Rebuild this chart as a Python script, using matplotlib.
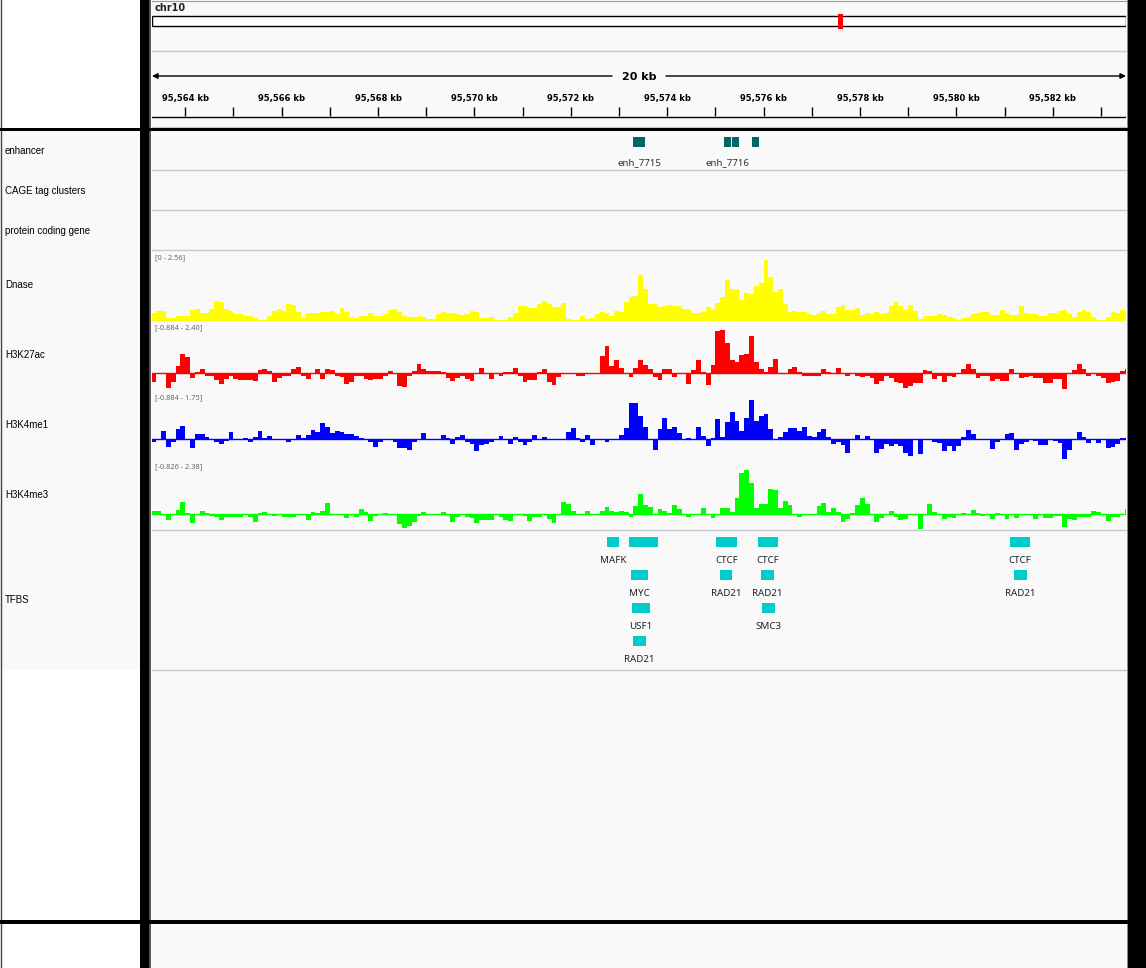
import matplotlib
matplotlib.use('Agg')
import matplotlib.pyplot as plt
from matplotlib.patches import Rectangle
import numpy as np

# ---------------- data ----------------
chrom = 'chr10'
chrom_length_kb = 135185.0
view_start_kb = 95563.309
view_end_kb = 95583.521
bin_start_kb = 95563.3
bin_size_kb = 0.1
ruler_ticks_kb = list(range(95564, 95584))
ruler_label_ticks_kb = list(range(95564, 95584, 2))
scale_label = '20 kb'

track_names = ['enhancer', 'CAGE tag clusters', 'protein coding gene', 'Dnase',
               'H3K27ac', 'H3K4me1', 'H3K4me3', 'TFBS']

dnase = [
    0.31, 0.42, 0.42, 0.13, 0.13, 0.18, 0.21, 0.21, 0.46, 0.49,
    0.32, 0.32, 0.49, 0.83, 0.77, 0.49, 0.42, 0.28, 0.28, 0.18,
    0.21, 0.13, 0.03, 0.03, 0.18, 0.42, 0.49, 0.42, 0.70, 0.66,
    0.38, 0.13, 0.32, 0.32, 0.32, 0.35, 0.37, 0.41, 0.30, 0.55,
    0.38, 0.15, 0.10, 0.20, 0.20, 0.32, 0.21, 0.21, 0.27, 0.45,
    0.51, 0.38, 0.21, 0.15, 0.15, 0.20, 0.15, 0.07, 0.07, 0.27,
    0.37, 0.32, 0.32, 0.27, 0.23, 0.28, 0.41, 0.38, 0.13, 0.13,
    0.17, 0.03, 0.03, 0.03, 0.17, 0.32, 0.62, 0.62, 0.55, 0.55,
    0.70, 0.83, 0.69, 0.59, 0.59, 0.75, 0.07, 0.03, 0.03, 0.21,
    0.08, 0.13, 0.27, 0.37, 0.34, 0.21, 0.41, 0.38, 0.79, 1.01,
    1.05, 1.93, 1.34, 0.70, 0.70, 0.59, 0.63, 0.66, 0.62, 0.62,
    0.51, 0.51, 0.34, 0.34, 0.38, 0.59, 0.51, 0.75, 1.00, 1.72,
    1.35, 1.35, 0.87, 1.17, 1.11, 1.48, 1.59, 2.56, 1.84, 1.21,
    1.35, 0.70, 0.37, 0.41, 0.35, 0.35, 0.28, 0.24, 0.34, 0.41,
    0.28, 0.28, 0.58, 0.66, 0.45, 0.45, 0.55, 0.24, 0.32, 0.28,
    0.37, 0.28, 0.32, 0.62, 0.79, 0.63, 0.46, 0.66, 0.39, 0.07,
    0.21, 0.21, 0.21, 0.28, 0.24, 0.15, 0.11, 0.03, 0.11, 0.15,
    0.28, 0.32, 0.37, 0.37, 0.24, 0.24, 0.45, 0.32, 0.24, 0.24,
    0.62, 0.32, 0.28, 0.28, 0.20, 0.20, 0.32, 0.32, 0.41, 0.45,
    0.28, 0.17, 0.37, 0.45, 0.37, 0.17, 0.03, 0.03, 0.17, 0.37,
    0.32, 0.45, 0.32]

h3k27ac = [
    -0.46, -0.04, 0.0, -0.79, -0.46, 0.41, 1.07, 0.90, -0.24, 0.07,
    0.24, -0.13, -0.13, -0.37, -0.57, -0.31, -0.13, -0.31, -0.37, -0.37,
    -0.37, -0.41, 0.18, 0.24, 0.13, -0.50, -0.24, -0.13, -0.13, 0.24,
    0.35, -0.13, -0.31, 0.0, 0.24, -0.31, 0.24, 0.18, -0.15, -0.18,
    -0.57, -0.46, -0.13, -0.13, -0.31, -0.37, -0.31, -0.31, -0.15, 0.13,
    -0.04, -0.68, -0.74, -0.13, 0.13, 0.52, 0.24, 0.13, 0.13, 0.13,
    0.07, -0.28, -0.41, -0.28, -0.13, -0.31, -0.41, 0.0, 0.30, 0.0,
    -0.31, 0.0, -0.13, 0.07, 0.07, 0.30, -0.13, -0.46, -0.37, -0.37,
    0.07, 0.24, -0.46, -0.63, -0.18, 0.0, 0.0, 0.0, -0.13, -0.13,
    0.0, 0.0, 0.0, 0.96, 1.51, 0.41, 0.74, 0.30, 0.0, -0.18,
    0.30, 0.74, 0.46, 0.24, -0.22, -0.37, 0.24, 0.24, -0.18, -0.06,
    -0.06, -0.57, 0.18, 0.74, 0.07, -0.65, 0.46, 2.34, 2.40, 1.68,
    0.74, 0.63, 1.02, 1.07, 2.07, 0.63, 0.24, 0.07, 0.35, 0.79,
    0.02, 0.0, 0.24, 0.35, 0.07, -0.13, -0.13, -0.13, -0.13, 0.24,
    0.07, 0.0, 0.30, 0.0, -0.13, -0.06, -0.13, -0.18, -0.13, -0.24,
    -0.57, -0.41, -0.13, -0.24, -0.46, -0.52, -0.79, -0.68, -0.52, -0.52,
    0.18, 0.13, -0.30, -0.13, -0.46, -0.13, -0.18, 0.0, 0.24, 0.52,
    0.24, -0.24, -0.13, -0.13, -0.41, -0.31, -0.41, -0.41, 0.24, 0.0,
    -0.24, -0.18, -0.13, -0.24, -0.24, -0.52, -0.52, -0.30, -0.30, -0.85,
    0.0, 0.18, 0.52, 0.24, -0.13, 0.0, -0.13, -0.24, -0.52, -0.46,
    -0.41, 0.13, 0.24]

h3k4me1 = [
    -0.12, 0.0, 0.36, -0.34, -0.15, 0.46, 0.58, -0.04, -0.39, 0.22,
    0.22, 0.10, 0.0, -0.15, -0.21, -0.07, 0.31, 0.0, 0.0, 0.04,
    -0.15, 0.10, 0.36, 0.06, 0.13, 0.0, 0.0, 0.0, -0.15, 0.0,
    0.18, 0.06, 0.18, 0.40, 0.31, 0.72, 0.54, 0.27, 0.36, 0.31,
    0.22, 0.22, 0.13, 0.06, 0.0, -0.12, -0.34, -0.15, 0.0, -0.06,
    -0.15, -0.42, -0.42, -0.48, -0.12, 0.0, 0.27, 0.0, -0.06, 0.0,
    0.18, 0.06, -0.21, 0.10, 0.18, -0.12, -0.24, -0.52, -0.27, -0.24,
    -0.15, 0.0, 0.13, 0.0, -0.21, 0.09, -0.12, -0.25, -0.12, 0.18,
    0.0, 0.09, 0.0, 0.0, 0.0, 0.0, 0.31, 0.49, 0.04, -0.15,
    0.18, -0.25, 0.0, 0.0, -0.15, 0.0, 0.0, 0.18, 0.49, 1.62,
    1.62, 1.03, 0.54, 0.0, -0.48, 0.45, 0.94, 0.45, 0.54, 0.27,
    0.0, 0.04, 0.0, 0.54, 0.13, -0.30, 0.04, 0.90, 0.09, 0.76,
    1.21, 0.81, 0.36, 0.94, 1.75, 0.81, 1.03, 1.12, 0.45, 0.0,
    0.09, 0.31, 0.49, 0.49, 0.36, 0.54, 0.13, 0.09, 0.31, 0.45,
    0.09, -0.21, -0.12, -0.27, -0.61, 0.0, 0.18, 0.0, 0.13, 0.0,
    -0.61, -0.43, -0.21, -0.30, -0.21, -0.30, -0.61, -0.75, 0.0, -0.66,
    0.0, -0.04, -0.12, -0.16, -0.52, -0.30, -0.52, -0.30, 0.09, 0.40,
    0.22, 0.0, 0.0, 0.0, -0.43, -0.12, 0.0, 0.22, 0.27, -0.48,
    -0.21, -0.12, 0.0, -0.07, -0.27, -0.27, 0.0, -0.07, -0.16, -0.88,
    -0.48, 0.0, 0.31, 0.10, -0.16, 0.0, -0.16, 0.0, -0.39, -0.34,
    -0.21, 0.06, 0.04]

h3k4me3 = [
    0.16, 0.16, 0.0, -0.31, 0.0, 0.22, 0.65, 0.05, -0.47, 0.0,
    0.16, 0.07, -0.09, -0.14, -0.32, -0.14, -0.14, -0.14, -0.14, 0.0,
    -0.14, -0.41, 0.07, 0.11, 0.0, -0.09, 0.0, -0.14, -0.14, -0.14,
    0.0, 0.0, -0.32, 0.11, 0.07, 0.16, 0.60, 0.0, 0.0, 0.0,
    -0.22, 0.0, -0.14, 0.27, 0.11, -0.38, -0.09, 0.0, 0.05, 0.0,
    -0.05, -0.54, -0.74, -0.63, -0.45, -0.09, 0.11, 0.0, 0.0, 0.0,
    0.11, 0.0, -0.41, -0.16, 0.0, -0.14, -0.20, -0.47, -0.31, -0.31,
    -0.32, 0.0, -0.14, -0.31, -0.36, 0.0, 0.0, -0.09, -0.36, -0.14,
    -0.14, 0.0, -0.25, -0.47, 0.0, 0.65, 0.54, 0.16, 0.0, 0.0,
    0.16, 0.0, 0.0, 0.16, 0.38, 0.16, 0.11, 0.16, 0.11, -0.14,
    0.43, 1.08, 0.49, 0.38, 0.0, 0.27, 0.16, 0.05, 0.49, 0.27,
    0.0, -0.14, 0.0, 0.0, 0.32, 0.0, -0.20, 0.0, 0.32, 0.32,
    0.11, 0.87, 2.22, 2.38, 1.68, 0.32, 0.54, 0.54, 1.35, 1.30,
    0.32, 0.70, 0.49, 0.0, -0.14, 0.0, 0.0, 0.0, 0.43, 0.60,
    0.11, 0.32, 0.11, -0.41, -0.25, 0.05, 0.49, 0.87, 0.54, 0.0,
    -0.41, -0.20, 0.0, 0.16, -0.14, -0.31, -0.25, 0.0, 0.0, -0.79,
    0.0, 0.54, 0.11, 0.0, -0.25, -0.14, -0.20, 0.0, 0.05, 0.0,
    0.22, 0.05, -0.09, 0.0, -0.25, 0.05, 0.0, -0.25, 0.0, -0.20,
    0.0, 0.0, 0.0, -0.25, 0.0, -0.20, -0.20, -0.09, -0.09, -0.69,
    -0.25, -0.31, -0.14, -0.14, -0.14, 0.16, 0.11, 0.0, -0.36, -0.14,
    -0.14, 0.0, 0.27]

signal_ranges = ['[0 - 2.56]', '[-0.884 - 2.40]', '[-0.884 - 1.75]', '[-0.826 - 2.38]']
signal_max = [2.56, 2.40, 1.75, 2.38]
signal_colors = ['#ffff00', '#ff0000', '#0000ff', '#00ff00']

enh_start = [95573.30, 95575.18, 95575.34, 95575.76]
enh_end = [95573.54, 95575.33, 95575.49, 95575.905]
enh_label = ['enh_7715', 'enh_7716', '', '']

tfbs_name = ['MAFK', '', 'CTCF', 'CTCF', 'CTCF',
             'MYC', 'RAD21', 'RAD21', 'RAD21',
             'USF1', 'SMC3',
             'RAD21']
tfbs_start = [95572.75, 95573.21, 95575.01, 95575.89, 95581.11,
              95573.25, 95575.10, 95575.95, 95581.20,
              95573.27, 95575.97,
              95573.29]
tfbs_end = [95573.00, 95573.81, 95575.45, 95576.30, 95581.53,
            95573.60, 95575.35, 95576.22, 95581.47,
            95573.64, 95576.24,
            95573.56]
tfbs_row = [0, 0, 0, 0, 0, 1, 1, 1, 1, 2, 2, 3]

# ---------------- figure ----------------
W, H = 1146, 968
fig = plt.figure(figsize=(W / 100, H / 100), dpi=100)
fig.patch.set_facecolor('white')

base = fig.add_axes([0, 0, 1, 1])
base.set_xlim(0, W)
base.set_ylim(H, 0)
base.axis('off')

DX0, DX1 = 152, 1126
BG = '#f9f9f9'
SEP = '#c8c8d4'


def rect(x0, y0, x1, y1, fc, ec='none', lw=0, z=0):
    base.add_patch(Rectangle((x0, y0), x1 - x0, y1 - y0, facecolor=fc,
                             edgecolor=ec, linewidth=lw, zorder=z))


# panels
rect(DX0, 0, DX1, H, BG)
rect(1, 131, 140, 670, BG)
rect(140, 0, 149, H, 'black', z=2)
rect(149, 0, 151, H, '#555555', z=2)
rect(1127, 0, W, H, 'black', z=2)
base.plot([1126.5, 1126.5], [0, H], color='#888888', lw=0.8, zorder=2)
base.plot([0.5, 0.5], [0, H], color='#444444', lw=1, zorder=2)
base.plot([DX0, DX1], [0.5, 0.5], color='#999999', lw=0.8, zorder=2)
rect(0, 128, W, 131, 'black', z=3)
rect(0, 920, W, 924, 'black', z=3)
for y in [51, 127, 170, 210, 250, 530, 670]:
    base.plot([DX0, DX1], [y, y], color=SEP, lw=1, zorder=1)

# header text and ideogram
base.text(155, 8, chrom, fontsize=7, fontweight='bold', color='#222222',
          ha='left', va='center', family='DejaVu Sans')

ideo = fig.add_axes([DX0 / W, 1 - 29 / H, (DX1 - DX0) / W, 15 / H])
ideo.set_xlim(0, chrom_length_kb)
ideo.set_ylim(0, 15)
ideo.axis('off')
ideo.add_patch(Rectangle((0, 3), chrom_length_kb, 10, facecolor='white',
                         edgecolor='black', linewidth=1))
view_center_kb = (view_start_kb + view_end_kb) / 2
marker_w = max(view_end_kb - view_start_kb, 4.7 / (DX1 - DX0) * chrom_length_kb)
ideo.add_patch(Rectangle((view_center_kb - marker_w / 2, 0), marker_w, 15,
                         facecolor='#ff0000', edgecolor='none'))

# ruler
ruler = fig.add_axes([DX0 / W, 1 - 128 / H, (DX1 - DX0) / W, 128 / H])
ruler.set_xlim(view_start_kb, view_end_kb)
ruler.set_ylim(128, 0)
ruler.axis('off')
ruler.patch.set_visible(False)
gap_kb = 0.56
ruler.annotate('', xy=(view_start_kb, 76), xytext=(view_center_kb - gap_kb, 76),
               arrowprops=dict(arrowstyle='-|>', color='black', lw=1,
                               mutation_scale=8, shrinkA=0, shrinkB=0))
ruler.annotate('', xy=(view_end_kb, 76), xytext=(view_center_kb + gap_kb, 76),
               arrowprops=dict(arrowstyle='-|>', color='black', lw=1,
                               mutation_scale=8, shrinkA=0, shrinkB=0))
ruler.text(view_center_kb, 77, scale_label, ha='center', va='center',
           fontsize=8, fontweight='bold', family='DejaVu Sans')
ruler.vlines(ruler_ticks_kb, 107, 116, color='black', lw=1)
for t in ruler_label_ticks_kb:
    ruler.text(t, 99, f'{t:,} kb', ha='center', va='center', fontsize=6,
               fontweight='bold', family='DejaVu Sans')
ruler.plot([view_start_kb, view_end_kb], [117, 117], color='black', lw=1)

# track names
name_y = [150.5, 190.5, 230.5, 285.5, 355.5, 425.5, 495, 600]
for name, y in zip(track_names, name_y):
    base.text(5, y, name, fontsize=7, ha='left', va='center',
              family='Liberation Sans', color='black', zorder=4)

# feature tracks (enhancer + TFBS)
fax = fig.add_axes([DX0 / W, 1 - 670 / H, (DX1 - DX0) / W, (670 - 131) / H])
fax.set_xlim(view_start_kb, view_end_kb)
fax.set_ylim(670, 131)
fax.axis('off')
fax.patch.set_visible(False)

es = np.array(enh_start)
ee = np.array(enh_end)
fax.barh(142, ee - es, left=es, height=10, color='#006666', linewidth=0)
for s, e, lab in zip(es, ee, enh_label):
    if lab:
        fax.text((s + e) / 2, 162.5, lab, ha='center', va='center', fontsize=7,
                 color='#333333', family='Noto Sans')

ts = np.array(tfbs_start)
te = np.array(tfbs_end)
rows = np.array(tfbs_row)
fax.barh(542 + 33 * rows, te - ts, left=ts, height=9.4, color='#00cccc', linewidth=0)
for s, e, r, lab in zip(ts, te, rows, tfbs_name):
    if lab:
        fax.text((s + e) / 2, 560.5 + 33 * r, lab, ha='center', va='center',
                 fontsize=7, color='#222222', family='Noto Sans')

# signal tracks
signals = [dnase, h3k27ac, h3k4me1, h3k4me3]
geom = [  # top, bottom, baseline px, px of max value
    (251, 321, 320.7, 260.0),
    (321, 391, 373.3, 330.0),
    (391, 460, 439.0, 400.0),
    (460, 530, 514.0, 470.0),
]
for vals, rng, vmax, col, (top, bot, bpx, mpx) in zip(signals, signal_ranges,
                                                      signal_max, signal_colors, geom):
    s = vmax / (bpx - mpx)
    ax = fig.add_axes([DX0 / W, 1 - bot / H, (DX1 - DX0) / W, (bot - top) / H])
    ax.set_xlim(view_start_kb, view_end_kb)
    ax.set_ylim(-(bot - bpx) * s, (bpx - top) * s)
    ax.axis('off')
    ax.patch.set_visible(False)
    v = np.array(vals)
    x = bin_start_kb + bin_size_kb * np.arange(len(v))
    ax.bar(x, v, width=bin_size_kb, align='edge', color=col, linewidth=0,
           antialiased=False)
    if min(vals) < 0:
        ax.axhline(0, color=col, lw=1)
    base.text(155, top + 7, rng, fontsize=5.3, color='#666666', ha='left',
              va='center', family='Noto Sans', zorder=4)

fig.savefig('out.png', dpi=100)
